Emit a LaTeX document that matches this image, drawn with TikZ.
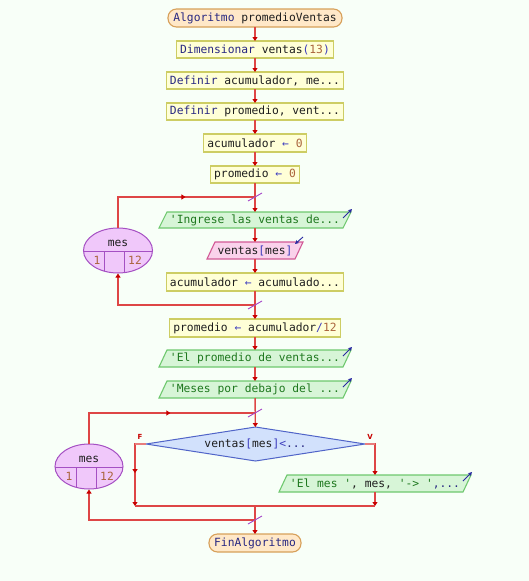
\documentclass[tikz,border=0pt]{standalone}
\usepackage{fontspec}
\setmonofont{DejaVu Sans Mono}
\setsansfont{DejaVu Sans}
\usetikzlibrary{shapes.geometric,arrows.meta,backgrounds,decorations.markings,calc}
\definecolor{bg}{RGB}{248,255,248}
\definecolor{kw}{RGB}{40,40,130}
\definecolor{num}{RGB}{170,100,60}
\definecolor{str}{RGB}{30,120,30}
\definecolor{op}{RGB}{60,60,190}
\definecolor{txt}{RGB}{30,30,30}
\definecolor{termf}{RGB}{255,232,200}
\definecolor{termd}{RGB}{215,160,90}
\definecolor{procf}{RGB}{255,255,215}
\definecolor{procd}{RGB}{205,205,100}
\definecolor{outf}{RGB}{215,245,215}
\definecolor{outd}{RGB}{110,200,110}
\definecolor{inf}{RGB}{250,210,235}
\definecolor{ind}{RGB}{210,90,150}
\definecolor{diaf}{RGB}{210,225,252}
\definecolor{diad}{RGB}{80,100,200}
\definecolor{loopf}{RGB}{240,200,250}
\definecolor{loopd}{RGB}{165,80,195}
\definecolor{lnc}{RGB}{222,70,70}
\definecolor{arrc}{RGB}{200,0,0}
\definecolor{stubc}{RGB}{232,125,125}
\definecolor{slashc}{RGB}{165,70,200}
\definecolor{ioarr}{RGB}{40,40,160}
\begin{document}
\begin{tikzpicture}[x=1pt,y=-1pt,
  base/.style={font=\ttfamily\fontsize{11.3}{13}\selectfont, inner sep=0pt, outer sep=0pt, text=txt},
  term/.style={base, rectangle, rounded corners=8.5pt, draw=termd, fill=termf, line width=1.1pt},
  proc/.style={base, rectangle, draw=procd, fill=procf, line width=1.1pt},
  iobox/.style={base, rectangle},
  outshape/.style={draw=outd, fill=outf, line width=1.1pt},
  inshape/.style={draw=ind, fill=inf, line width=1.1pt},
  loopnode/.style={ellipse, draw=loopd, fill=loopf, line width=1pt, inner sep=0pt},
  loopline/.style={draw=loopd, line width=1pt},
  conn/.style={draw=lnc, line width=1.4pt, -{Triangle[length=4pt,width=5pt,color=arrc]}},
  plain/.style={draw=lnc, line width=1.4pt},
  stub/.style={draw=stubc, line width=1.8pt},
  slashmark/.style={draw=slashc, line width=0.9pt},
  ioarrow/.style={draw=ioarr, line width=0.9pt, -{Stealth[length=4pt,width=4pt]}},
  midarrow/.style={postaction={decorate}, decoration={markings, mark=at position #1 with {\arrow{Triangle[length=4pt,width=5pt,color=arrc]}}}},
  brlabel/.style={font=\sffamily\bfseries\fontsize{7}{8}\selectfont, text=arrc, inner sep=0pt}
]
\begin{scope}[on background layer]
  \fill[bg] (0,0) rectangle (529,581);
\end{scope}
\useasboundingbox (0,0) rectangle (529,581);

% nodes
\node[term, minimum width=174pt, minimum height=18pt] (start) at (255,18) {{\color{kw}Algoritmo} promedioVentas};
\node[proc, minimum width=157pt, minimum height=17pt] (dim) at (255,49.5) {{\color{kw}Dimensionar} ventas{\color{op}(}{\color{num}13}{\color{op})}};
\node[proc, minimum width=177pt, minimum height=17pt] (def1) at (255,80.5) {{\color{kw}Definir} acumulador, me...};
\node[proc, minimum width=177pt, minimum height=17pt] (def2) at (255,111.5) {{\color{kw}Definir} promedio, vent...};
\node[proc, minimum width=103pt, minimum height=18pt] (acc0) at (255,143) {acumulador {\color{op}←} {\color{num}0}};
\node[proc, minimum width=89pt, minimum height=17pt] (prom0) at (255,174.5) {promedio {\color{op}←} {\color{num}0}};
\node[iobox, minimum width=192pt, minimum height=16pt] (in1) at (255,220) {{\color{str}'Ingrese las ventas de...}};
\node[iobox, minimum width=96pt, minimum height=17pt] (read) at (255,250.5) {ventas{\color{op}[}mes{\color{op}]}};
\node[proc, minimum width=177pt, minimum height=18pt] (acc) at (255,282) {acumulador {\color{op}←} acumulado...};
\node[proc, minimum width=171pt, minimum height=18pt] (promA) at (255,328) {promedio {\color{op}←} acumulador{\color{op}/}{\color{num}12}};
\node[iobox, minimum width=192pt, minimum height=17pt] (out2) at (255,358.5) {{\color{str}'El promedio de ventas...}};
\node[iobox, minimum width=192pt, minimum height=17pt] (out3) at (255,389.5) {{\color{str}'Meses por debajo del ...}};
\node[base, diamond, aspect=6.44, draw=diad, fill=diaf, line width=1pt, minimum width=219pt, minimum height=34pt] (dia) at (255.5,444) {ventas{\color{op}[}mes{\color{op}]<}{\color{kw}...}};
\node[iobox, minimum width=192pt, minimum height=17pt] (out4) at (375,483.5) {{\color{str}'El mes '}, mes, {\color{str}'-> '}{\color{kw},...}};
\node[term, minimum width=92pt, minimum height=18pt] (end) at (255,543) {{\color{kw}FinAlgoritmo}};

% parallelogram shapes
\begin{scope}[on background layer]
  \foreach \n in {in1,out2,out3,out4}
    \draw[outshape] ([shift={(8,0)}]\n.north west) -- (\n.north east) -- ([shift={(-8,0)}]\n.south east) -- (\n.south west) -- cycle;
  \draw[inshape] ([shift={(8,0)}]read.north west) -- (read.north east) -- ([shift={(-8,0)}]read.south east) -- (read.south west) -- cycle;
\end{scope}

% loop nodes
\node[loopnode, minimum width=69pt, minimum height=45pt] (loop1) at (118,250.5) {};
\begin{scope}
  \clip (loop1.center) ellipse [x radius=34.5, y radius=22.5];
  \draw[loopline] ([shift={(-40,0.5)}]loop1.center) -- ++(80,0);
  \draw[loopline] ([shift={(-14,0.5)}]loop1.center) -- ++(0,30);
  \draw[loopline] ([shift={(6,0.5)}]loop1.center) -- ++(0,30);
\end{scope}
\node[base] (l1var) at ([shift={(0,-7)}]loop1.center) {mes};
\node[base, text=num] (l1a) at ([shift={(-21,10)}]loop1.center) {1};
\node[base, text=num] (l1b) at ([shift={(17,10)}]loop1.center) {12};

\node[loopnode, minimum width=68pt, minimum height=45pt] (loop2) at (89,466.5) {};
\begin{scope}
  \clip (loop2.center) ellipse [x radius=34, y radius=22.5];
  \draw[loopline] ([shift={(-40,0.5)}]loop2.center) -- ++(80,0);
  \draw[loopline] ([shift={(-13,0.5)}]loop2.center) -- ++(0,30);
  \draw[loopline] ([shift={(7,0.5)}]loop2.center) -- ++(0,30);
\end{scope}
\node[base] (l2var) at ([shift={(0,-7)}]loop2.center) {mes};
\node[base, text=num] (l2a) at ([shift={(-20,10)}]loop2.center) {1};
\node[base, text=num] (l2b) at ([shift={(18,10)}]loop2.center) {12};

% junction coordinates
\coordinate (j1) at (255,197);
\coordinate (j2) at (255,305);
\coordinate (j3) at (255,413);
\coordinate (j4) at (255,520);
\coordinate (fc) at (135,444);
\coordinate (vc) at (375,444);
\coordinate (jl) at (135,506);
\coordinate (jr) at (375,506);
\coordinate (jm) at (255,506);

% connectors
\draw[conn] (start) -- (dim);
\draw[conn] (dim) -- (def1);
\draw[conn] (def1) -- (def2);
\draw[conn] (def2) -- (acc0);
\draw[conn] (acc0) -- (prom0);
\draw[conn] (prom0) -- (in1);
\draw[conn] (in1) -- (read);
\draw[conn] (read) -- (acc);
\draw[conn] (acc) -- (promA);
\draw[conn] (promA) -- (out2);
\draw[conn] (out2) -- (out3);
\draw[conn] (out3) -- (dia);
\draw[plain, midarrow=0.585] (loop1.north) |- (j1);
\draw[conn] (j2) -| (loop1.south);
\draw[plain, midarrow=0.569] (loop2.north) |- (j3);
\draw[conn] (j4) -| (loop2.south);
\draw[conn] (dia.east) -| (out4.north);
\draw[conn, midarrow=0.55] (dia.west) -| (jl);
\draw[conn] (out4.south) -- (jr);
\draw[plain] (jl) -- (jr);
\draw[conn] (jm) -- (end);
\draw[stub] (dia.west) -- (fc);
\draw[stub] (dia.east) -- (vc);

% branch labels
\node[brlabel] (lf) at (140,437) {F};
\node[brlabel] (lv) at (370,437) {V};

% slash marks
\foreach \j in {j1,j2,j3,j4}
  \draw[slashmark] ([shift={(-7,4)}]\j) -- ([shift={(7,-4)}]\j);

% io arrows
\foreach \n in {in1,out2,out3,out4}
  \draw[ioarrow] ([shift={(-8,6)}]\n.north east) -- ([shift={(1,-3)}]\n.north east);
\draw[ioarrow] ([shift={(0,-5)}]read.north east) -- ([shift={(-8,2)}]read.north east);
\end{tikzpicture}
\end{document}
